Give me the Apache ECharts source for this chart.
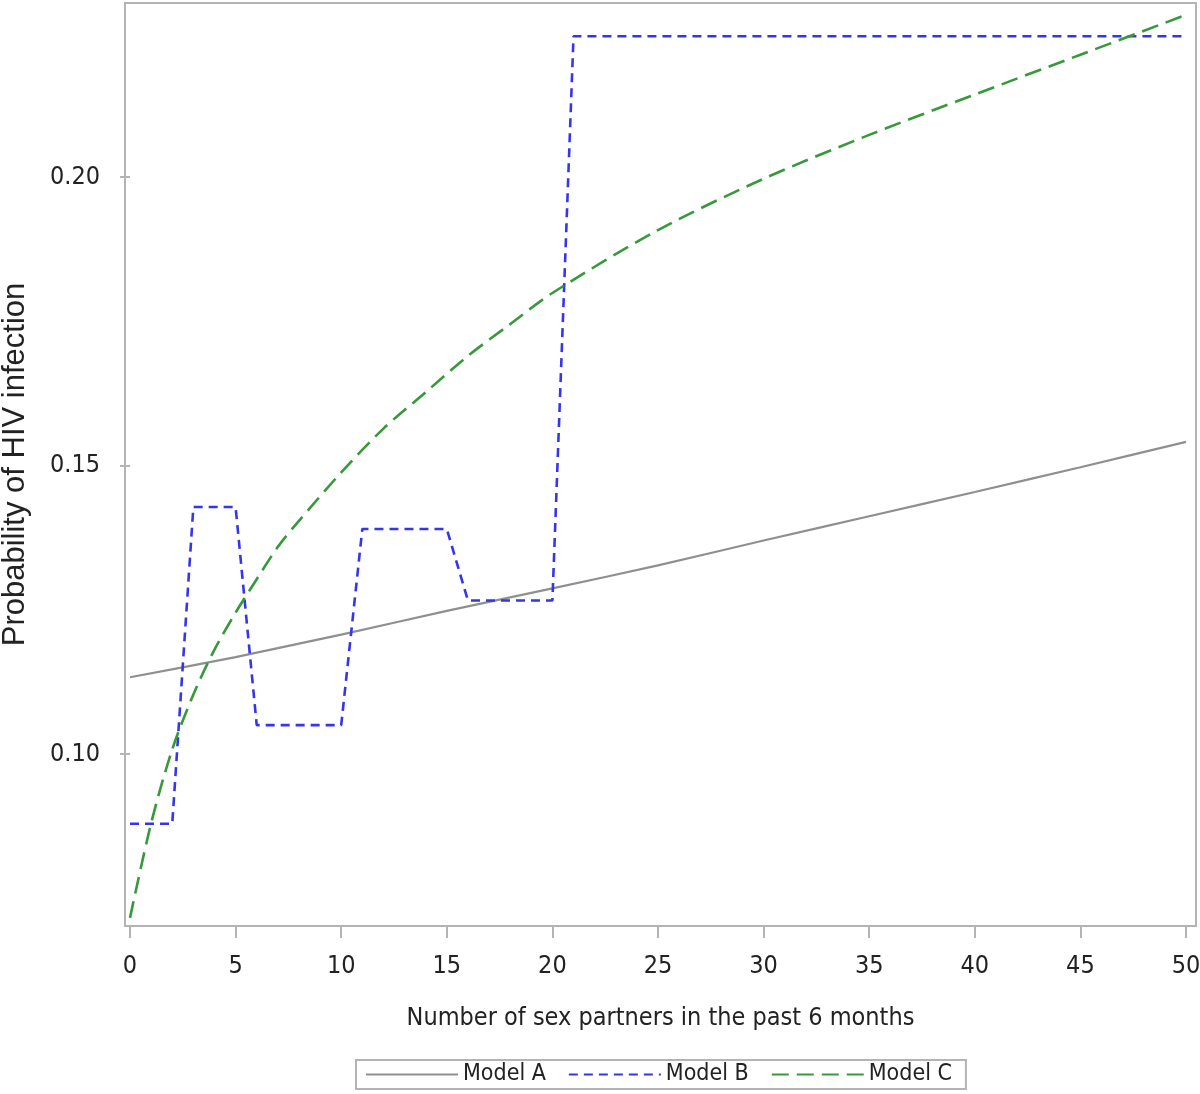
<!DOCTYPE html>
<html>
<head>
<meta charset="utf-8">
<script src="https://cdn.jsdelivr.net/npm/echarts@6/dist/echarts.min.js"></script>
<style>
html,body{margin:0;padding:0;background:#fff;}
#chart{width:1200px;height:1094px;}
</style>
</head>
<body>
<div id="chart"></div>
<script>
const xTicks = [0, 5, 10, 15, 20, 25, 30, 35, 40, 45, 50];
const yTicks = [0.10, 0.15, 0.20];
const seriesNames = ['Model A', 'Model B', 'Model C'];
const modelAx = [0, 5, 10, 15, 20, 25, 30, 35, 40, 45, 50];
const modelAy = [0.1133, 0.1168, 0.1207, 0.1248, 0.1287, 0.1327, 0.1370, 0.1412, 0.1454, 0.1497, 0.1541];
const modelBx = [0, 2, 3, 5, 6, 10, 11, 15, 16, 20, 21, 50];
const modelBy = [0.0879, 0.0879, 0.1428, 0.1428, 0.1050, 0.1050, 0.1390, 0.1390, 0.1266, 0.1266, 0.2244, 0.2244];
const modelCx = [0, 1, 2, 3, 4, 5, 6, 7, 8, 10, 12, 14, 16, 18, 20, 25, 30, 35, 40, 45, 50];
const modelCy = [0.0716, 0.0880, 0.1008, 0.1103, 0.1181, 0.1245, 0.1303, 0.1359, 0.1404, 0.1488, 0.1564, 0.1627, 0.1690, 0.1745, 0.1799, 0.1908, 0.1997, 0.2073, 0.2143, 0.2212, 0.2281];

const pairs = (xs, ys) => xs.map((x, i) => [x, ys[i]]);
const narrow = "'Liberation Sans Narrow', 'Arial Narrow', 'DejaVu Sans Condensed', sans-serif";
const frame = '#b4b4b4';
const txt = '#222222';

const chart = echarts.init(document.getElementById('chart'), null, {renderer: 'canvas'});
chart.setOption({
  animation: false,
  backgroundColor: '#fff',
  grid: {left: 125, right: 4, top: 3, bottom: 168, containLabel: false, outerBoundsMode: 'none',
         show: true, borderColor: frame, borderWidth: 2, backgroundColor: 'transparent'},
  xAxis: {
    type: 'value', min: -0.237, max: 50.473,
    name: 'Number of sex partners in the past 6 months',
    nameLocation: 'middle', nameGap: 80,
    nameTextStyle: {fontFamily: narrow, fontSize: 25, color: txt},
    axisLine: {show: false, onZero: false},
    splitLine: {show: false},
    axisTick: {show: true, customValues: xTicks, length: 12, lineStyle: {color: frame, width: 2}},
    axisLabel: {customValues: xTicks, margin: 28, fontFamily: narrow, fontSize: 25, color: txt, formatter: v => String(Math.round(v))}
  },
  yAxis: {
    type: 'value', min: 0.07019, max: 0.23016,
    name: 'Probability of HIV infection',
    nameLocation: 'middle', nameGap: 94,
    nameTextStyle: {fontFamily: "'Liberation Sans', Arial, sans-serif", fontSize: 31, color: txt},
    axisLine: {show: false},
    splitLine: {show: false},
    axisTick: {show: true, customValues: yTicks, length: 10, lineStyle: {color: frame, width: 2}},
    axisLabel: {customValues: yTicks, margin: 25, fontFamily: narrow, fontSize: 25, color: txt, formatter: v => v.toFixed(2)}
  },
  legend: {
    data: seriesNames,
    left: 356, top: 1060,
    orient: 'horizontal',
    itemWidth: 92, itemHeight: 14, itemGap: 22,
    padding: [3, 14, 3, 9],
    borderColor: frame, borderWidth: 2,
    itemStyle: {opacity: 0},
    textStyle: {fontFamily: narrow, fontSize: 23, color: txt}
  },
  series: [
    {name: seriesNames[0], type: 'line', data: pairs(modelAx, modelAy), symbol: 'none', smooth: 0.2,
     lineStyle: {color: '#8f8f8f', width: 2.2}, itemStyle: {color: '#8f8f8f'}},
    {name: seriesNames[1], type: 'line', data: pairs(modelBx, modelBy), symbol: 'none',
     lineStyle: {color: '#3535ee', width: 2.6, type: [9, 6]}, itemStyle: {color: '#3535ee'}},
    {name: seriesNames[2], type: 'line', data: pairs(modelCx, modelCy), symbol: 'none', smooth: 0.3,
     lineStyle: {color: '#36993a', width: 2.6, type: [17, 8]}, itemStyle: {color: '#36993a'}}
  ]
});
</script>
</body>
</html>
